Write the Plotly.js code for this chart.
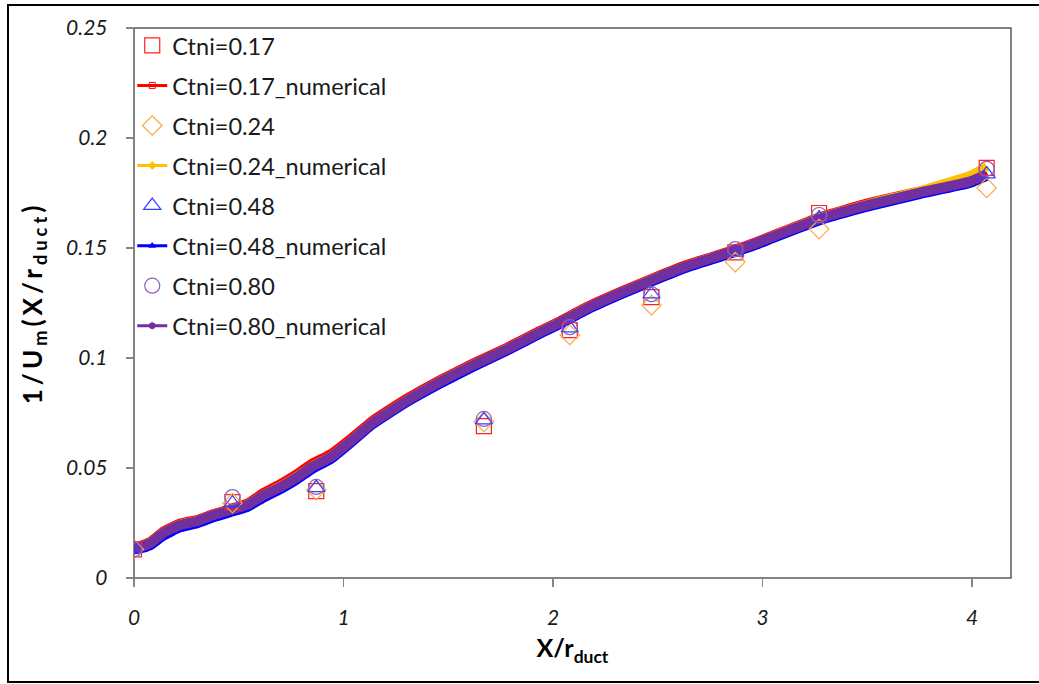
<!DOCTYPE html>
<html>
<head>
<meta charset="utf-8">
<script src="https://cdn.plot.ly/plotly-3.0.1.min.js"></script>
<style>
html,body{margin:0;padding:0;background:#fff;}
#chart{width:1039px;height:684px;}
</style>
</head>
<body>
<div id="chart"></div>
<script>
// ---- Data ----
const expX = [0, 0.47, 0.87, 1.67, 2.08, 2.47, 2.87, 3.27, 4.07];
const exp017 = [0.0130, 0.0345, 0.0395, 0.0690, 0.1127, 0.1277, 0.1480, 0.1659, 0.1864];
const exp024 = [0.0130, 0.0340, 0.0400, 0.0710, 0.1105, 0.1240, 0.1436, 0.1586, 0.1773];
const exp048 = [0.0135, 0.0340, 0.0410, 0.0718, 0.1136, 0.1290, 0.1480, 0.1636, 0.1836];
const exp080 = [0.0130, 0.0368, 0.0414, 0.0723, 0.1140, 0.1290, 0.1495, 0.1650, 0.1860];

const numX = [0, 0.03, 0.08, 0.14, 0.22, 0.30, 0.38, 0.46, 0.54, 0.62, 0.70, 0.78, 0.85, 0.94, 1.02, 1.14, 1.30, 1.46, 1.62, 1.78, 1.94, 2.02, 2.17, 2.33, 2.49, 2.64, 2.81, 2.96, 3.05, 3.27, 3.51, 3.75, 3.99, 4.07];
const num017 = [0.0140,0.0148,0.0168,0.0213,0.0250,0.0266,0.0293,0.0316,0.0341,0.0390,0.0430,0.0476,0.0522,0.0566,0.0624,0.0718,0.0816,0.0901,0.0978,0.1049,0.1127,0.1163,0.1238,0.1306,0.1370,0.1426,0.1477,0.1525,0.1559,0.1641,0.1707,0.1759,0.1809,0.1845];
const num024 = [0.0137,0.0144,0.0163,0.0208,0.0244,0.0261,0.0289,0.0312,0.0335,0.0380,0.0418,0.0463,0.0509,0.0553,0.0613,0.0709,0.0808,0.0894,0.0971,0.1043,0.1121,0.1158,0.1233,0.1301,0.1365,0.1421,0.1473,0.1521,0.1555,0.1636,0.1702,0.1760,0.1830,0.1870];
const num048 = [0.0128,0.0132,0.0148,0.0190,0.0228,0.0246,0.0274,0.0297,0.0320,0.0364,0.0402,0.0447,0.0493,0.0539,0.0600,0.0697,0.0796,0.0881,0.0958,0.1031,0.1109,0.1146,0.1221,0.1289,0.1353,0.1409,0.1461,0.1509,0.1543,0.1623,0.1688,0.1743,0.1793,0.1825];
const num080 = [0.0135,0.0141,0.0160,0.0205,0.0241,0.0258,0.0286,0.0309,0.0332,0.0377,0.0414,0.0459,0.0505,0.0550,0.0610,0.0706,0.0805,0.0891,0.0968,0.1040,0.1118,0.1155,0.1230,0.1298,0.1362,0.1418,0.1470,0.1518,0.1552,0.1632,0.1697,0.1752,0.1802,0.1835];

const names = ["Ctni=0.17", "Ctni=0.24", "Ctni=0.48", "Ctni=0.80"];
const xTicks = [0, 1, 2, 3, 4];
const yTicks = [0, 0.05, 0.1, 0.15, 0.2, 0.25];

// ---- Styles ----
const FONT = "Lato, 'Open Sans', sans-serif";
const lineColors = ["#FF0000", "#FFC000", "#0000FF", "#7030A0"];
const markColors = ["#FF2020", "#F8A848", "#3A3AFF", "#8A64B8"];
const expSymbols = ["square-open", "diamond-open", "triangle-up-open", "circle-open"];
const numSymbols = ["square-open", "diamond", "triangle-up", "circle"];
const bandWidths = [9, 9, 9, 10];
const expY = [exp017, exp024, exp048, exp080];
const numY = [num017, num024, num048, num080];

const traces = [];
// thick numerical bands (drawn first), no legend
[0, 1, 2, 3].forEach(i => {
  traces.push({
    x: numX, y: numY[i], type: "scatter", mode: "lines",
    line: {color: lineColors[i], width: bandWidths[i], shape: "spline", smoothing: 0.4},
    showlegend: false, hoverinfo: "skip"
  });
});
// experimental markers + legend-only entries for numerical
for (let i = 0; i < 4; i++) {
  traces.push({
    x: expX, y: expY[i], type: "scatter", mode: "markers", name: names[i],
    marker: {symbol: expSymbols[i], size: 15, color: markColors[i], line: {width: 1.2, color: markColors[i]}},
    legendrank: 2 * i + 1, legendgroup: "e" + i
  });
  traces.push({
    x: [null], y: [null], type: "scatter", mode: "lines+markers", name: names[i] + "_numerical",
    line: {color: lineColors[i], width: 3},
    marker: {symbol: numSymbols[i], size: 6, color: lineColors[i], line: {width: 1, color: lineColors[i]}},
    legendrank: 2 * i + 2, legendgroup: "n" + i
  });
}

const M = {l: 134, r: 28, t: 28, b: 106};
const PW = 1039 - M.l - M.r, PH = 684 - M.t - M.b;
const px2x = p => (p - M.l) / PW;
const py2y = p => 1 - (p - M.t) / PH;

const layout = {
  width: 1039, height: 684,
  margin: M,
  paper_bgcolor: "#fff", plot_bgcolor: "#fff",
  font: {family: FONT, size: 20, color: "#1a1a1a"},
  showlegend: true,
  legend: {
    x: -0.002, y: 1.008, xanchor: "left", yanchor: "top",
    bgcolor: "rgba(0,0,0,0)", borderwidth: 0,
    font: {family: FONT, size: 23.5, color: "#1a1a1a"},
    tracegroupgap: 6.5, itemwidth: 30
  },
  xaxis: {
    range: [0, 4.186], tickvals: xTicks, ticktext: xTicks.map(String),
    showgrid: false, zeroline: false, showline: true, linecolor: "#868686", linewidth: 1.3,
    ticks: "outside", ticklen: 8, tickcolor: "#868686", tickwidth: 1.3,
    tickfont: {family: FONT, size: 21, style: "italic", color: "#1a1a1a"},
    ticklabelstandoff: 12,
    title: {text: "<b>X/r<sub>duct</sub></b>", font: {family: FONT, size: 25, color: "#000"}, standoff: 12}
  },
  yaxis: {
    range: [0, 0.25], tickvals: yTicks,
    showgrid: false, zeroline: false, showline: true, linecolor: "#868686", linewidth: 1.3,
    ticks: "outside", ticklen: 7, tickcolor: "#868686", tickwidth: 1.3,
    tickfont: {family: FONT, size: 21, style: "italic", color: "#1a1a1a"},
    ticklabelstandoff: 14,
    title: {text: "<span style=\"letter-spacing:4px\"><b>1/U<sub>m</sub>(X/r<sub>duct</sub>)</b></span>", font: {family: FONT, size: 26, color: "#000"}, standoff: 16}
  },
  shapes: [
    {type: "rect", xref: "paper", yref: "paper", x0: 0, x1: 1, y0: 0, y1: 1,
     line: {color: "#595959", width: 1.5}, fillcolor: "rgba(0,0,0,0)", layer: "below"},
    {type: "rect", xref: "paper", yref: "paper", x0: px2x(8), x1: px2x(1046), y0: py2y(682), y1: py2y(5),
     line: {color: "#000", width: 2}, fillcolor: "rgba(0,0,0,0)", layer: "below"}
  ]
};

Plotly.newPlot("chart", traces, layout, {displayModeBar: false, staticPlot: true});
</script>
</body>
</html>
